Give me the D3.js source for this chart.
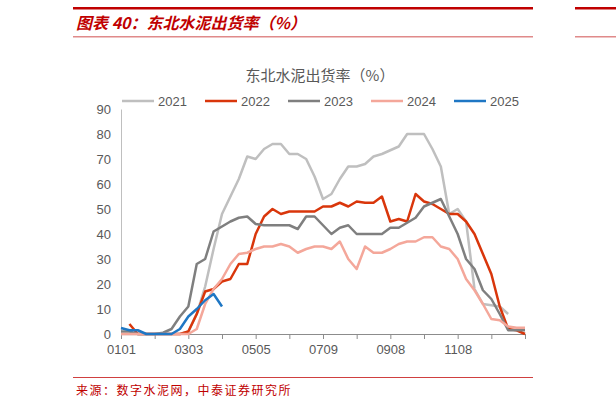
<!DOCTYPE html>
<html><head><meta charset="utf-8">
<script src="https://cdn.jsdelivr.net/npm/d3@7"></script>
<style>body{margin:0;background:#fff}svg{font-family:"Liberation Sans",Arial,sans-serif}</style>
</head><body><svg id="c" width="616" height="408"></svg>
<script>
const years = ["2021", "2022", "2023", "2024", "2025"]
const colors = ["#bfbfbf", "#d9360b", "#7f7f7f", "#f4a79a", "#1f77c4"]
const tick_labels = ["0101", "0303", "0505", "0709", "0908", "1108"]
// weekly values, index = week
const s2021 = [0,0,0,0,0,0,0,0,1,8,19,34,48,55,62,71,70,74,76,76,72,72,70,63,54,56,62,67,67,68,71,72,73.5,75,80,80,80,74,67,48,50,45,18,12,11.5,11,8]
const s2022 = [null,4,0,0,0,0,0,0,1,8,17,18,21,22,28,28,40,47,50,48,49,49,49,49,51,51,52.5,51,53,52.5,52.5,55,45,46,45,56,53,52,50,48,48,45,40,32,24,11,2,1.5,0]
const s2023 = [1,1,0,0,0,0.5,2,7,11,28,30,41,43,45,46.5,47,44,43.5,43.5,43.5,43.5,42,47,47,43.5,40,42.5,43.5,40,40,40,40,42.5,42.5,44.5,46.5,51,52.5,54,47,40,30,26,17.5,14,8,1.5,1.5,1.5]
const s2024 = [0,0,0,0,0,0,0,0,0,2,12,18,22,28,32,32.5,34,35,35,36,35,32.5,34,35,35,34,37,30,26,35,32.5,32.5,34,36,37,37,38.7,38.7,35,34,30,22,17.5,12,6,5.5,3,2.5,2.5]
const s2025 = [2.4,1.5,1.5,0,0,0,0,2,7,10,13.5,16,11]
const series = [s2021, s2022, s2023, s2024, s2025]

const svg = d3.select("#c")
const m = {l: 121, r: 525, t: 109, b: 334}
const x = d3.scaleLinear().domain([0, 48]).range([m.l, m.r])
const y = d3.scaleLinear().domain([0, 90]).range([m.b, m.t])

// header
svg.append("rect").attr("x", 73).attr("y", 7).attr("width", 460).attr("height", 2.5).attr("fill", "#c00000")
svg.append("rect").attr("x", 575).attr("y", 7).attr("width", 41).attr("height", 2.5).attr("fill", "#c00000")
svg.append("rect").attr("x", 73).attr("y", 36).attr("width", 460).attr("height", 1.5).attr("fill", "#e08a8a")
svg.append("rect").attr("x", 575).attr("y", 36).attr("width", 41).attr("height", 1.5).attr("fill", "#e08a8a")
svg.append("text").attr("x", 76).attr("y", 29).attr("fill", "#c00000")
  .attr("font-size", 16).attr("font-weight", "bold").attr("font-style", "italic")
  .attr("font-family", "'Noto Sans CJK SC'").text("图表 40：东北水泥出货率（%）")

svg.append("text").attr("x", 320).attr("y", 81).attr("text-anchor", "middle")
  .attr("font-size", 15).attr("fill", "#595959").attr("font-family", "'Noto Sans CJK SC'")
  .text("东北水泥出货率（%）")

// legend
const lg = svg.append("g").selectAll("g").data(years).join("g")
  .attr("transform", (d, i) => `translate(${122 + i * 83},101)`)
lg.append("line").attr("x1", 0).attr("x2", 32).attr("stroke", (d, i) => colors[i]).attr("stroke-width", 2.5)
lg.append("text").attr("x", 36).attr("y", 5).attr("font-size", 13).attr("fill", "#595959").text(d => d)

// axes
const ya = svg.append("g").attr("transform", `translate(${m.l},0)`)
  .call(d3.axisLeft(y).tickValues(d3.range(0, 91, 10)).tickSize(0).tickPadding(10))
ya.select(".domain").attr("stroke", "#bfbfbf")
ya.selectAll("text").attr("font-size", 13).attr("fill", "#595959").attr("font-family", "'Liberation Sans'")

const xa = svg.append("g").attr("transform", `translate(0,${m.b})`)
  .call(d3.axisBottom(x).tickValues(d3.range(0, 49, 4)).tickSize(5).tickPadding(6)
    .tickFormat(d => d % 8 === 0 ? tick_labels[d / 8] : ""))
xa.selectAll("line,.domain").attr("stroke", "#8c8c8c")
xa.selectAll("text").attr("font-size", 13).attr("fill", "#595959").attr("font-family", "'Liberation Sans'")

const line = d3.line().defined(d => d != null).x((d, i) => x(i)).y(d => y(d))
svg.append("g").selectAll("path").data(series).join("path")
  .attr("d", line).attr("fill", "none")
  .attr("stroke", (d, i) => colors[i]).attr("stroke-width", 2.5).attr("stroke-linejoin", "round")

// footer
svg.append("rect").attr("x", 73).attr("y", 377).attr("width", 460).attr("height", 1).attr("fill", "#d04040")
svg.append("text").attr("x", 76).attr("y", 395).attr("fill", "#c00000").attr("font-size", 12)
  .attr("font-family", "'Noto Sans CJK SC'").attr("letter-spacing", 1.5)
  .text("来源：数字水泥网，中泰证券研究所")
</script></body></html>
